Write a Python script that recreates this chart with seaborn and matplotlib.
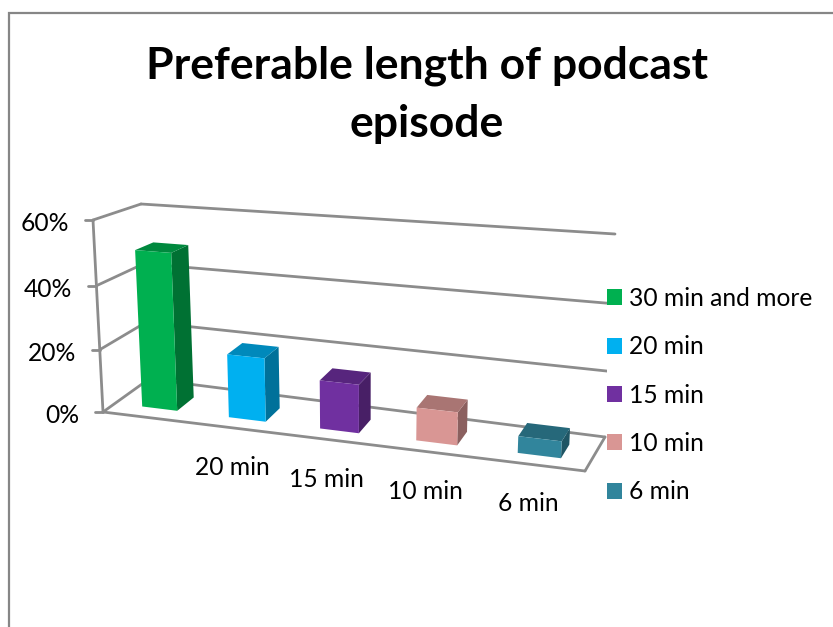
import numpy as np
import pandas as pd
import seaborn as sns
import matplotlib.pyplot as plt
from matplotlib.lines import Line2D
from matplotlib.patches import Polygon, Rectangle
from matplotlib.transforms import IdentityTransform, Transform

# data
categorias = ["30 min and more", "20 min", "15 min", "10 min", "6 min"]
valores = [50, 20, 15, 10, 5]
colores = ["#00B050", "#00B0F0", "#7030A0", "#D99694", "#31859C"]
etiquetas_x = ["", "20 min", "15 min", "10 min", "6 min"]
ticks_y = [0, 20, 40, 60]
etiquetas_y = ["0%", "20%", "40%", "60%"]
titulo = "Preferable length of podcast\nepisode"

ANCHO, ALTO = 833, 627
GRIS = "#8C8C8C"
U_MIN, U_MAX, V_MAX = -0.5, 4.5, 60

# chart box corners in pixels: floor left, floor right, top right, top left
esquinas_frente = [(103, 412), (585, 471), (596, 255), (93, 220)]
esquinas_fondo = [(149, 379), (605, 437), (615, 234), (141, 204)]
PROF_BARRA = (0.26, 0.66)
DX_BARRA = 2.5


def homografia(esquinas):
    origen = [(U_MIN, 0), (U_MAX, 0), (U_MAX, V_MAX), (U_MIN, V_MAX)]
    A, b = [], []
    for (u, v), (x, y) in zip(origen, esquinas):
        A.append([u, v, 1, 0, 0, 0, -u * x, -v * x])
        A.append([0, 0, 0, u, v, 1, -u * y, -v * y])
        b += [x, y]
    return np.append(np.linalg.solve(np.array(A, float), np.array(b, float)), 1).reshape(3, 3)


H_FRENTE = homografia(esquinas_frente)
H_FONDO = homografia(esquinas_fondo)


def aplicar(H, puntos):
    p = np.column_stack([puntos, np.ones(len(puntos))]) @ H.T
    return p[:, :2] / p[:, 2:]


def proyectar(puntos, prof, dx=0):
    puntos = np.asarray(puntos, float)
    xy = (1 - prof) * aplicar(H_FRENTE, puntos) + prof * aplicar(H_FONDO, puntos)
    return np.column_stack([xy[:, 0] + dx, ALTO - xy[:, 1]])


class Plano(Transform):
    input_dims = 2
    output_dims = 2

    def __init__(self, prof, dx=0):
        super().__init__()
        self.prof = prof
        self.dx = dx

    def transform_non_affine(self, values):
        return proyectar(values, self.prof, self.dx)


def oscurecer(color, factor):
    return tuple(c * factor for c in plt.matplotlib.colors.to_rgb(color))


sns.set_style("white")
plt.rcParams["font.family"] = ["Lato", "DejaVu Sans"]

df = pd.DataFrame({"categoria": categorias, "valor": valores})
fig = plt.figure(figsize=(ANCHO / 100, ALTO / 100), dpi=100)
ax = fig.add_axes([0, 0, 1, 1])
sns.barplot(data=df, x="categoria", y="valor", hue="categoria", palette=colores, hue_order=categorias,
            width=0.41, dodge=False, saturation=1, linewidth=0, legend=True, ax=ax)
ax.set_xlim(U_MIN, U_MAX)
ax.set_ylim(0, V_MAX)
ax.axis("off")

# outer frame, only left and top are visible
fig.add_artist(Rectangle((9, -10), ANCHO + 20, ALTO - 13 + 10, transform=IdentityTransform(),
                         fill=False, edgecolor="#868686", linewidth=1.6))


def linea(a, prof_a, b, prof_b, z=1):
    p = np.vstack([proyectar([a], prof_a), proyectar([b], prof_b)])
    ax.add_line(Line2D(p[:, 0], p[:, 1], transform=IdentityTransform(), color=GRIS,
                       linewidth=2.0, zorder=z, clip_on=False, solid_capstyle="round"))


# walls and floor
for v in ticks_y:
    linea((U_MIN, v), 1, (U_MAX, v), 1)
    linea((U_MIN, v), 0, (U_MIN, v), 1)
    p = proyectar([(U_MIN, v)], 0)[0]
    ax.add_line(Line2D([p[0] - 8, p[0]], [p[1], p[1]], transform=IdentityTransform(), color=GRIS,
                       linewidth=2.0, clip_on=False))
linea((U_MIN, 0), 0, (U_MIN, V_MAX), 0)
linea((U_MIN, 0), 0, (U_MAX, 0), 0)
linea((U_MAX, 0), 0, (U_MAX, 0), 1)

# bars: fronts come from seaborn, sides and tops follow their rectangles
frente, fondo = PROF_BARRA
for barra, color in zip(ax.patches, colores):
    x0, x1 = barra.get_x(), barra.get_x() + barra.get_width()
    h = barra.get_height()
    lado = np.vstack([proyectar([(x1, 0), (x1, h)], frente, DX_BARRA),
                      proyectar([(x1, h), (x1, 0)], fondo, DX_BARRA)])
    tapa = np.vstack([proyectar([(x0, h), (x1, h)], frente, DX_BARRA),
                      proyectar([(x1, h), (x0, h)], fondo, DX_BARRA)])
    ax.add_patch(Polygon(lado, closed=True, transform=IdentityTransform(), facecolor=oscurecer(color, 0.64),
                         edgecolor="none", zorder=2, clip_on=False))
    ax.add_patch(Polygon(tapa, closed=True, transform=IdentityTransform(), facecolor=oscurecer(color, 0.78),
                         edgecolor="none", zorder=2, clip_on=False))
    barra.set_transform(Plano(frente, DX_BARRA))
    barra.set_clip_on(False)
    barra.set_zorder(3)

# tick labels
for v, texto in zip(ticks_y, etiquetas_y):
    ax.annotate(texto, xy=(U_MIN, v), xycoords=Plano(0), xytext=(-24, -3.5), textcoords="offset pixels",
                ha="right", va="center", fontsize=17.7, color="black", annotation_clip=False)
for u, texto in enumerate(etiquetas_x):
    if texto:
        ax.annotate(texto, xy=(u, 0), xycoords=Plano(0), xytext=(-2.5, -39.5), textcoords="offset pixels",
                    ha="center", va="center", fontsize=17.7, color="black", annotation_clip=False)

fig.text(427 / ANCHO, 1 - 94.5 / ALTO, titulo, ha="center", va="center", fontsize=32, fontweight="bold",
         color="black", linespacing=1.55)

sns.move_legend(ax, "upper left", bbox_to_anchor=(607 / ANCHO, 1 - 287 / ALTO), title=None, frameon=True,
                facecolor="white", edgecolor="none", framealpha=1, fontsize=17.7, borderpad=0,
                borderaxespad=0, handlelength=0.61, handleheight=0.61, handletextpad=0.27, labelspacing=1.03)
ax.get_legend().set_zorder(5)
for t in ax.get_legend().get_texts():
    t.set_color("black")

plt.savefig("out.png", dpi=100)
plt.close()
